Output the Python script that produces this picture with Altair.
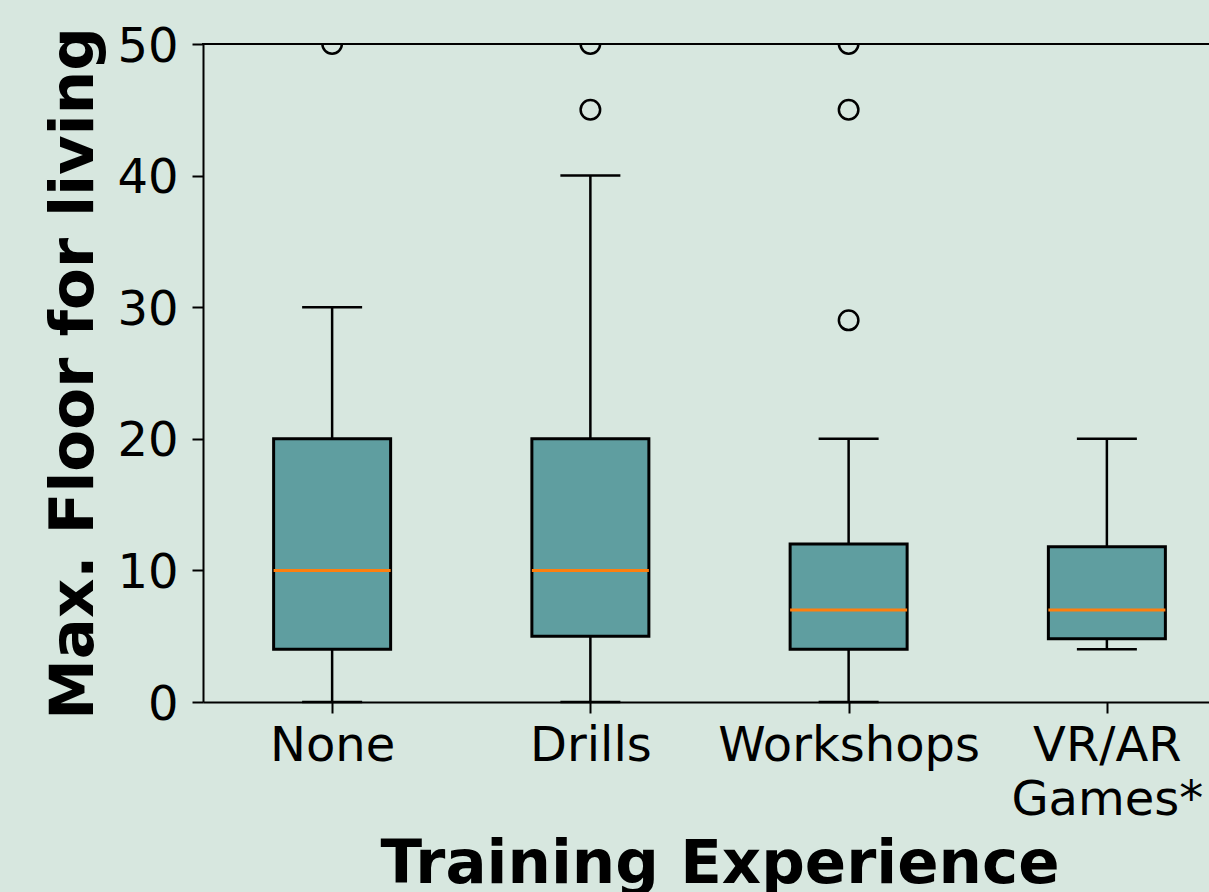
import json
import altair as alt
import pandas as pd

# ---- data ----
categories = ["None", "Drills", "Workshops", "VR/AR\nGames*"]
positions = [1, 2, 3, 4]
whisker_low = [0, 0, 0, 4]
q1 = [4, 5, 4, 4.8]
median = [10, 10, 7, 7]
q3 = [20, 20, 12, 11.8]
whisker_high = [30, 40, 20, 20]
outlier_pos = [1, 2, 2, 3, 3, 3]
outlier_val = [50, 50, 45, 50, 45, 29]
y_ticks = [0, 10, 20, 30, 40, 50]

BG = "#d7e7df"
BOX = "#5f9ea0"
MED = "#ff7f0e"
FONT = "DejaVu Sans"

W, H = 1006, 658
X_DOMAIN = [0.5, 0.5 + W / 258.25]

boxes = pd.DataFrame({
    "pos": positions, "cat": categories, "lo": whisker_low, "q1": q1,
    "med": median, "q3": q3, "hi": whisker_high,
})
outs = pd.DataFrame({"pos": outlier_pos, "val": outlier_val})

label_list = [c.split("\n") if "\n" in c else c for c in categories]
label_expr = json.dumps(label_list) + "[datum.value - 1]"

x_axis = alt.Axis(
    values=positions, labelExpr=label_expr, title="Training Experience",
    titleFont=FONT, titleFontSize=61, titleFontWeight="bold", titleColor="black",
    titleX=516.5, titleY=180, titleAlign="center", titleBaseline="alphabetic",
    titleLimit=0,
    labelFont=FONT, labelFontSize=48, labelColor="black", labelPadding=9,
    labelLineHeight=54, labelAlign="center", labelLimit=0, labelOverlap=False,
    labelFlush=False,
    tickSize=11, tickWidth=2, tickColor="black",
    domainColor="black", domainWidth=2, grid=False,
)
y_axis = alt.Axis(
    values=y_ticks, title="Max. Floor for living",
    titleFont=FONT, titleFontSize=61, titleFontWeight="bold", titleColor="black",
    titleAngle=270, titleX=-111, titleY=H / 2, titleAlign="center",
    titleBaseline="alphabetic", titleLimit=0,
    labelFont=FONT, labelFontSize=48, labelColor="black", labelPadding=14,
    labelOffset=3, labelLimit=0, labelFlush=False,
    tickSize=11, tickWidth=2, tickColor="black",
    domainColor="black", domainWidth=2, grid=False,
)

xs = alt.Scale(domain=X_DOMAIN, nice=False, zero=False, padding=0)
ys = alt.Scale(domain=[0, 50], nice=False, padding=0)

base = alt.Chart(boxes)

whisk_lo = base.mark_rule(color="black", strokeWidth=2.5).encode(
    x=alt.X("pos:Q", scale=xs, axis=x_axis),
    y=alt.Y("lo:Q", scale=ys, axis=y_axis),
    y2="q1:Q",
)
whisk_hi = base.mark_rule(color="black", strokeWidth=2.5).encode(
    x=alt.X("pos:Q", scale=xs), y=alt.Y("q3:Q", scale=ys), y2="hi:Q",
)
cap_lo = base.mark_tick(orient="horizontal", color="black", thickness=2.5, size=60,
                        opacity=1).encode(
    x=alt.X("pos:Q", scale=xs), y=alt.Y("lo:Q", scale=ys),
)
cap_hi = base.mark_tick(orient="horizontal", color="black", thickness=2.5, size=60,
                        opacity=1).encode(
    x=alt.X("pos:Q", scale=xs), y=alt.Y("hi:Q", scale=ys),
)
box = base.mark_bar(color=BOX, stroke="black", strokeWidth=3, size=117,
                    opacity=1).encode(
    x=alt.X("pos:Q", scale=xs), y=alt.Y("q1:Q", scale=ys), y2="q3:Q",
)
med = base.mark_tick(orient="horizontal", color=MED, thickness=3, size=117,
                     opacity=1).encode(
    x=alt.X("pos:Q", scale=xs), y=alt.Y("med:Q", scale=ys),
)
fliers = alt.Chart(outs).mark_point(
    shape="circle", filled=False, stroke="black", strokeWidth=2.5, size=380,
    clip=True, opacity=1,
).encode(
    x=alt.X("pos:Q", scale=xs), y=alt.Y("val:Q", scale=ys),
)
top_spine = alt.Chart(boxes).mark_rule(color="black", strokeWidth=2).encode(
    x=alt.value(-1), x2=alt.value(W), y=alt.value(0),
)

chart = alt.layer(
    whisk_lo, whisk_hi, cap_lo, cap_hi, box, med, fliers, top_spine
).properties(
    width=W, height=H, background=BG,
    autosize=alt.AutoSizeParams(type="none"),
    padding={"left": 203, "top": 44, "right": 0, "bottom": 190},
).configure_view(stroke=None, fill=BG)

chart.save("out.html", embed_options={"renderer": "svg", "actions": False})
